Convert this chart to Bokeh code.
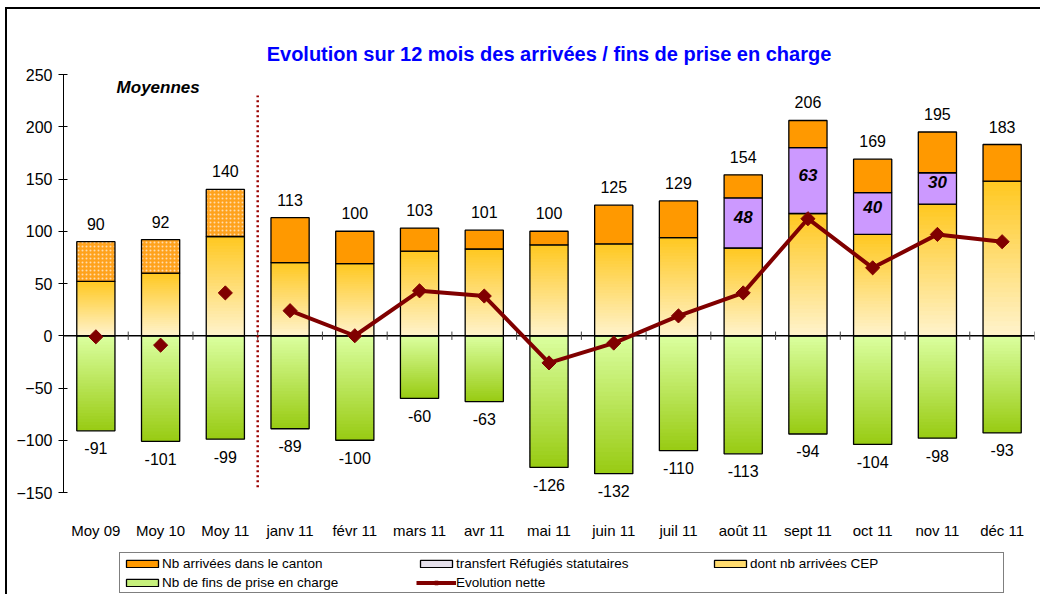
import numpy as np
from bokeh.plotting import figure
from bokeh.models import (FactorRange, Range1d, ColumnDataSource, LabelSet, Label,
                          Legend, LegendItem)
from bokeh.core.properties import value
from bokeh.embed import file_html
from bokeh.resources import INLINE

# ---------------- data ----------------
categories = ["Moy 09", "Moy 10", "Moy 11", "janv 11", "févr 11", "mars 11", "avr 11",
              "mai 11", "juin 11", "juil 11", "août 11", "sept 11", "oct 11", "nov 11", "déc 11"]
n_avg = 3  # first three categories are yearly averages
arrivals = [90, 92, 140, 113, 100, 103, 101, 100, 125, 129, 154, 206, 169, 195, 183]
cep = [52, 60, 95, 70, 69, 81, 83, 87, 88, 94, 84, 117, 97, 126, 148]
transfers = [0, 0, 0, 0, 0, 0, 0, 0, 0, 0, 48, 63, 40, 30, 0]
ends = [-91, -101, -99, -89, -100, -60, -63, -126, -132, -110, -113, -94, -104, -98, -93]
net = [-1, -9, 41, 24, 0, 43, 38, -26, -7, 19, 41, 112, 65, 97, 90]
y_ticks = [-150, -100, -50, 0, 50, 100, 150, 200, 250]

FONT = "Liberation Sans"
ORANGE = "#FF9900"
PURPLE = "#CC99FF"
LINE = "#800000"
CEP_NEAR, CEP_FAR = "#FFF3CC", "#FFC820"
END_NEAR, END_FAR = "#DBFFA0", "#98CB12"
BW = 0.59


def hex2rgb(h):
    h = h.lstrip("#")
    return tuple(int(h[i:i + 2], 16) for i in (0, 2, 4))


def lerp(c0, c1, t):
    a, b = hex2rgb(c0), hex2rgb(c1)
    return "#%02x%02x%02x" % tuple(int(round(a[i] + (b[i] - a[i]) * t)) for i in range(3))


def gradient_source(cats, vals, near, far, n=32):
    xs, b0, b1, cols = [], [], [], []
    for c, v in zip(cats, vals):
        for k in range(n):
            s0 = v * k / n
            s1 = v * min(1.0, (k + 1.5) / n)
            xs.append(c)
            b0.append(min(s0, s1))
            b1.append(max(s0, s1))
            cols.append(lerp(near, far, (k + 0.5) / n))
    return ColumnDataSource(dict(x=xs, b=b0, t=b1, c=cols))


p = figure(width=1040, height=594,
           x_range=FactorRange(factors=categories, range_padding=0, factor_padding=0),
           y_range=Range1d(-247.6, 257.66),
           output_backend="svg", toolbar_location=None,
           min_border_left=63, min_border_right=6, min_border_top=66, min_border_bottom=0,
           title="Evolution sur 12 mois des arrivées / fins de prise en charge")
# chart-area frame lines (left and top), drawn as inset shadows behind the transparent border area
p.styles = {"box-shadow": "inset 5px 7px 0 0 #ffffff, inset 7px 9px 0 0 #000000",
            "background-color": "#ffffff"}
p.outline_line_color = None
p.xgrid.grid_line_color = None
p.ygrid.grid_line_color = None
p.background_fill_color = "white"
p.border_fill_color = None
p.xaxis.visible = False

p.title.text_font = FONT
p.title.text_font_size = "20px"
p.title.text_font_style = "bold"
p.title.text_color = "#0000FF"
p.title.align = "center"
p.title.standoff = 4

# y axis
p.yaxis.ticker = y_ticks
p.yaxis.bounds = (-150, 250)
p.yaxis.axis_line_color = "black"
p.yaxis.major_tick_in = 4
p.yaxis.major_tick_out = 5
p.yaxis.minor_tick_line_color = None
p.yaxis.major_label_text_font = FONT
p.yaxis.major_label_text_font_size = "16px"
p.yaxis.major_label_text_color = "black"
p.yaxis.major_label_standoff = 6

# legend swatch proxies (single degenerate bar hidden beneath the chart)
def proxy(color):
    return p.vbar(x=categories[:1], bottom=[0], top=[0], width=0, fill_color=color,
                  line_color="black", line_width=1.3)


sw_arr = proxy(ORANGE)
sw_tr = proxy("#E6E1EC")
sw_cep = proxy("#FFDB6E")
sw_end = proxy("#C6F07C")

# gradient bars
p.vbar(x="x", bottom="b", top="t", width=BW, fill_color="c", line_color=None,
       source=gradient_source(categories, cep, CEP_NEAR, CEP_FAR))
p.vbar(x="x", bottom="b", top="t", width=BW, fill_color="c", line_color=None,
       source=gradient_source(categories, ends, END_NEAR, END_FAR))
p.vbar(x=categories, bottom=0, top=cep, width=BW, fill_color=None, line_color="black", line_width=1.3)
p.vbar(x=categories, bottom=0, top=ends, width=BW, fill_color=None, line_color="black", line_width=1.3)

# transfers (purple)
tr_idx = [i for i, v in enumerate(transfers) if v > 0]
tr_src = ColumnDataSource(dict(
    x=[categories[i] for i in tr_idx],
    b=[cep[i] for i in tr_idx],
    t=[cep[i] + transfers[i] for i in tr_idx],
    m=[cep[i] + transfers[i] / 2 for i in tr_idx],
    lab=[str(transfers[i]) for i in tr_idx]))
p.vbar(x="x", bottom="b", top="t", width=BW, fill_color=PURPLE, line_color="black",
       line_width=1.3, source=tr_src)

# remaining arrivals (orange) - months
p.vbar(x=categories[n_avg:], bottom=[c + t for c, t in zip(cep[n_avg:], transfers[n_avg:])],
       top=arrivals[n_avg:], width=BW, fill_color=ORANGE, line_color="black", line_width=1.3)
# averages (hatched orange)
p.vbar(x=categories[:n_avg], bottom=[c + t for c, t in zip(cep[:n_avg], transfers[:n_avg])],
       top=arrivals[:n_avg], width=BW, fill_color="#FFA21C", line_color="black", line_width=1.3,
       hatch_pattern="dot", hatch_color="#FFDCAE", hatch_scale=4, hatch_weight=1.6)

# zero line and category ticks (horizontal category axis at 0)
bounds = list(range(0, len(categories) + 1))
p.segment(x0=[0], x1=[len(categories)], y0=[0], y1=[0], line_color="black", line_width=1.5)
p.segment(x0=bounds[1:], x1=bounds[1:], y0=-4, y1=4, line_color="#444444", line_width=1)

# separator between averages and months
p.segment(x0=[n_avg], x1=[n_avg], y0=[-145], y1=[230], line_color="#990000",
          line_width=2.5, line_dash="2 3")

# net evolution
r_line = p.line(x=categories[n_avg:], y=net[n_avg:], line_color=LINE, line_width=4)
r_mark = p.scatter(x=categories, y=net, marker="square", angle=np.pi / 4, size=10,
                   fill_color=LINE, line_color=LINE)

# value labels
pos_src = ColumnDataSource(dict(x=categories, y=arrivals, t=[str(v) for v in arrivals]))
neg_src = ColumnDataSource(dict(x=categories, y=ends, t=[str(v) for v in ends]))
p.add_layout(LabelSet(x="x", y="y", text="t", source=pos_src, text_align="center",
                      text_baseline="alphabetic", y_offset=12, text_font=value(FONT),
                      text_font_size="16px", text_color="black"))
p.add_layout(LabelSet(x="x", y="y", text="t", source=neg_src, text_align="center",
                      text_baseline="alphabetic", y_offset=-23.5, text_font=value(FONT),
                      text_font_size="16px", text_color="black"))
p.add_layout(LabelSet(x="x", y="m", text="lab", source=tr_src, text_align="center",
                      text_baseline="alphabetic", y_offset=0, text_font=value(FONT),
                      text_font_size="17px", text_font_style="bold italic", text_color="black"))
p.add_layout(Label(x=0.82, y=237.5, text="Moyennes", text_font=FONT, text_font_size="17px",
                   text_font_style="bold italic", text_color="black", text_baseline="alphabetic"))

# category labels (horizontal axis labels, below the -150 end of the value axis)
cat_src = ColumnDataSource(dict(x=categories, y=[y_ticks[0]] * len(categories), t=categories))
p.add_layout(LabelSet(x="x", y="y", text="t", source=cat_src, text_align="center",
                      text_baseline="middle", y_offset=-38, text_font=value(FONT),
                      text_font_size="15px", text_color="black"))

legend = Legend(items=[
    LegendItem(label="Nb arrivées dans le canton", renderers=[sw_arr]),
    LegendItem(label="transfert Réfugiés statutaires", renderers=[sw_tr]),
    LegendItem(label="dont nb arrivées CEP", renderers=[sw_cep]),
    LegendItem(label="Nb de fins de prise en charge", renderers=[sw_end]),
    LegendItem(label="Evolution nette", renderers=[r_line, r_mark]),
], location=(56, 1), orientation="horizontal", ncols=3,
    glyph_width=40, glyph_height=9, label_standoff=0, label_width=251, label_height=16,
    spacing=3, padding=2, margin=0,
    label_text_font=FONT, label_text_font_size="13.5px", label_text_color="black",
    border_line_color="black", border_line_width=1, background_fill_color="white",
    background_fill_alpha=1)
p.add_layout(legend, "center")

open("out.html", "w").write(file_html(p, INLINE))
